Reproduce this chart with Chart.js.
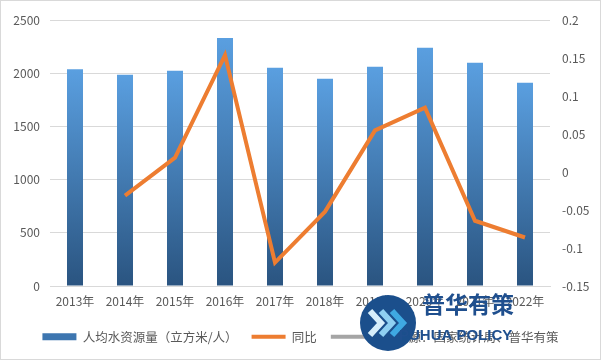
<!DOCTYPE html>
<html><head><meta charset="utf-8">
<script src="https://cdn.jsdelivr.net/npm/chart.js@4/dist/chart.umd.min.js"></script>
<style>
html,body{margin:0;padding:0;background:#fff;}
#wrap{width:601px;height:360px;box-sizing:border-box;border:1px solid #d9d9d9;}
canvas{display:block;}
</style></head><body>
<div id="wrap"><canvas id="c" width="599" height="358"></canvas></div>
<script>
const categories = ['2013年','2014年','2015年','2016年','2017年','2018年','2019年','2020年','2021年','2022年'];
const perCapita = [2040,1987,2024,2332,2052,1950,2062,2242,2099,1912];
const yoy = [null,-0.031,0.019,0.154,-0.119,-0.052,0.055,0.085,-0.064,-0.086];
const seriesNames = ['人均水资源量（立方米/人）','同比','资料来源：国家统计局、普华有策'];
const leftAxis = {min:0, max:2500, step:500};
const rightAxis = {min:-0.15, max:0.2, step:0.05};

const FONT = '"Noto Sans CJK SC", "Noto Sans", sans-serif';
const TXT = '#595959';

function barGradient(ctx){
  const chart = ctx.chart;
  const ys = chart.scales && chart.scales.y;
  if (!chart.chartArea || !ys || ctx.raw == null) return '#4a8bcb';
  const top = ys.getPixelForValue(ctx.raw);
  const g = chart.ctx.createLinearGradient(0, top, 0, ys.bottom);
  g.addColorStop(0, '#5a9fe0');
  g.addColorStop(1, '#2a5480');
  return g;
}

const watermark = {
  id:'watermark',
  afterDraw(chart){
    const c = chart.ctx;
    const cx = 387, cy = 322, r = 28;
    c.save();
    c.beginPath(); c.arc(cx, cy, r, 0, Math.PI*2); c.fillStyle = '#1b4f8c'; c.fill();
    const cols = ['#d6eefb','#8fd0f2','#3fa9e2'];
    c.lineWidth = 6; c.lineJoin = 'miter';
    for (let i=0;i<3;i++){
      const x0 = cx - 18 + i*11;
      c.beginPath(); c.moveTo(x0, cy-12); c.lineTo(x0+11, cy); c.lineTo(x0, cy+12);
      c.strokeStyle = cols[i]; c.stroke();
    }
    c.fillStyle = '#1f4f8e';
    c.font = 'bold 23px "Noto Sans CJK SC", sans-serif';
    c.textBaseline = 'middle'; c.textAlign = 'left';
    c.fillText('普华有策', 421, 303);
    c.font = 'bold 15px "Liberation Sans", "Noto Sans", sans-serif';
    c.fillText('PUHUA POLICY', 398, 335);
    c.restore();
  }
};

new Chart(document.getElementById('c'), {
  data: {
    labels: categories,
    datasets: [
      {type:'bar', label: seriesNames[0], data: perCapita, yAxisID:'y', order:2,
       backgroundColor: barGradient, barPercentage:0.32, categoryPercentage:1, borderWidth:0},
      {type:'line', label: seriesNames[1], data: yoy, yAxisID:'y1', order:0,
       borderColor:'#ED7D31', borderWidth:4, pointRadius:0, tension:0, fill:false, spanGaps:false},
      {type:'line', label: seriesNames[2], data: [], yAxisID:'y1', order:1,
       borderColor:'#A5A5A5', borderWidth:4, pointRadius:0}
    ]
  },
  options: {
    responsive:false, animation:false,
    layout:{padding:{top:13, bottom:6, left:0, right:0}},
    plugins:{
      tooltip:{enabled:false},
      legend:{
        position:'bottom',
        labels:{
          usePointStyle:true, pointStyleWidth:34, boxHeight:7, padding:14,
          color:TXT, font:{family:FONT, size:12.5},
          generateLabels(){
            return [
              {text:seriesNames[0], fillStyle:'#3d76b0', strokeStyle:'#3d76b0', lineWidth:0, pointStyle:'rect', datasetIndex:0, fontColor:TXT},
              {text:seriesNames[1], fillStyle:'#ED7D31', strokeStyle:'#ED7D31', lineWidth:4, pointStyle:'line', datasetIndex:1, fontColor:TXT},
              {text:seriesNames[2], fillStyle:'#A5A5A5', strokeStyle:'#A5A5A5', lineWidth:4, pointStyle:'line', datasetIndex:2, fontColor:TXT}
            ];
          }
        }
      }
    },
    scales:{
      x:{
        grid:{display:false, drawTicks:false},
        border:{display:true, color:'#d9d9d9'},
        ticks:{color:TXT, font:{family:FONT, size:12}, padding:8, maxRotation:0, autoSkip:false}
      },
      y:{
        position:'left', min:leftAxis.min, max:leftAxis.max,
        grid:{color:'#d9d9d9', drawTicks:false},
        border:{display:false},
        ticks:{stepSize:leftAxis.step, color:TXT, font:{family:FONT, size:12}, padding:10,
          callback:v=>String(v)},
        afterFit(s){ s.width = 49; }
      },
      y1:{
        position:'right', min:rightAxis.min, max:rightAxis.max,
        grid:{display:false, drawTicks:false},
        border:{display:false},
        ticks:{stepSize:rightAxis.step, color:TXT, font:{family:FONT, size:12}, padding:12,
          callback:v=>String(Number(v.toFixed(2)))},
        afterFit(s){ s.width = 50; }
      }
    }
  },
  plugins:[watermark]
});
</script>
</body></html>
